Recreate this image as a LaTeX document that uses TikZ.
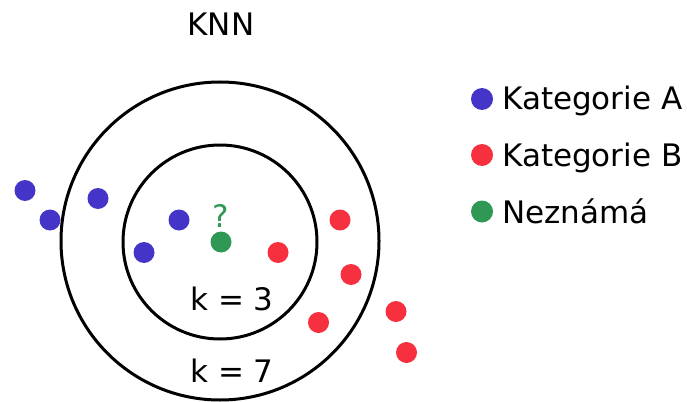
\documentclass[tikz,border=0pt]{standalone}
\usepackage{fontspec}
\setmainfont{DejaVu Sans}
\definecolor{catA}{RGB}{68,52,200}
\definecolor{catB}{RGB}{246,48,62}
\definecolor{unk}{RGB}{46,152,84}
\begin{document}
\begin{tikzpicture}[x=1pt,y=-1pt,
  dotA/.style={circle,fill=catA,minimum size=21pt,inner sep=0pt},
  dotB/.style={circle,fill=catB,minimum size=21pt,inner sep=0pt},
  dotU/.style={circle,fill=unk,minimum size=21pt,inner sep=0pt},
  ring/.style={circle,draw=black,line width=3pt,inner sep=0pt},
  lbl/.style={inner sep=0pt,anchor=base,font=\fontsize{31}{37}\selectfont},
  leg/.style={inner sep=0pt,anchor=base west,font=\fontsize{31}{37}\selectfont}]
\useasboundingbox (0,0) rectangle (687,401);
% rings
\node[ring,minimum size=318pt] (outer) at (220,241) {};
\node[ring,minimum size=194pt] (inner) at (220,242) {};
% title
\node[lbl] (title) at (221,36) {KNN};
% unknown point
\node[dotU] (u) at (221,242) {};
\node[lbl,text=unk] (q) at (221,227.5) {?};
% category A
\node[dotA] (a1) at (25,190.5) {};
\node[dotA] (a2) at (50,220) {};
\node[dotA] (a3) at (98,198.5) {};
\node[dotA] (a4) at (179,220) {};
\node[dotA] (a5) at (144,252.5) {};
% category B
\node[dotB] (b1) at (340,220) {};
\node[dotB] (b2) at (278,252.5) {};
\node[dotB] (b3) at (351,274.5) {};
\node[dotB] (b4) at (396,311.5) {};
\node[dotB] (b5) at (318.5,322.5) {};
\node[dotB] (b6) at (406.5,352.5) {};
% k labels
\node[lbl] (k3) at (232,310) {k = 3};
\node[lbl] (k7) at (232,382) {k = 7};
% legend
\node[dotA,minimum size=22pt] (la) at (482,99) {};
\node[dotB,minimum size=22pt] (lb) at (482,155) {};
\node[dotU,minimum size=22pt] (lu) at (482,211.5) {};
\node[leg] (ta) at (502,110) {Kategorie A};
\node[leg] (tb) at (502,166.5) {Kategorie B};
\node[leg] (tu) at (502,223) {Neznámá};
\end{tikzpicture}
\end{document}
